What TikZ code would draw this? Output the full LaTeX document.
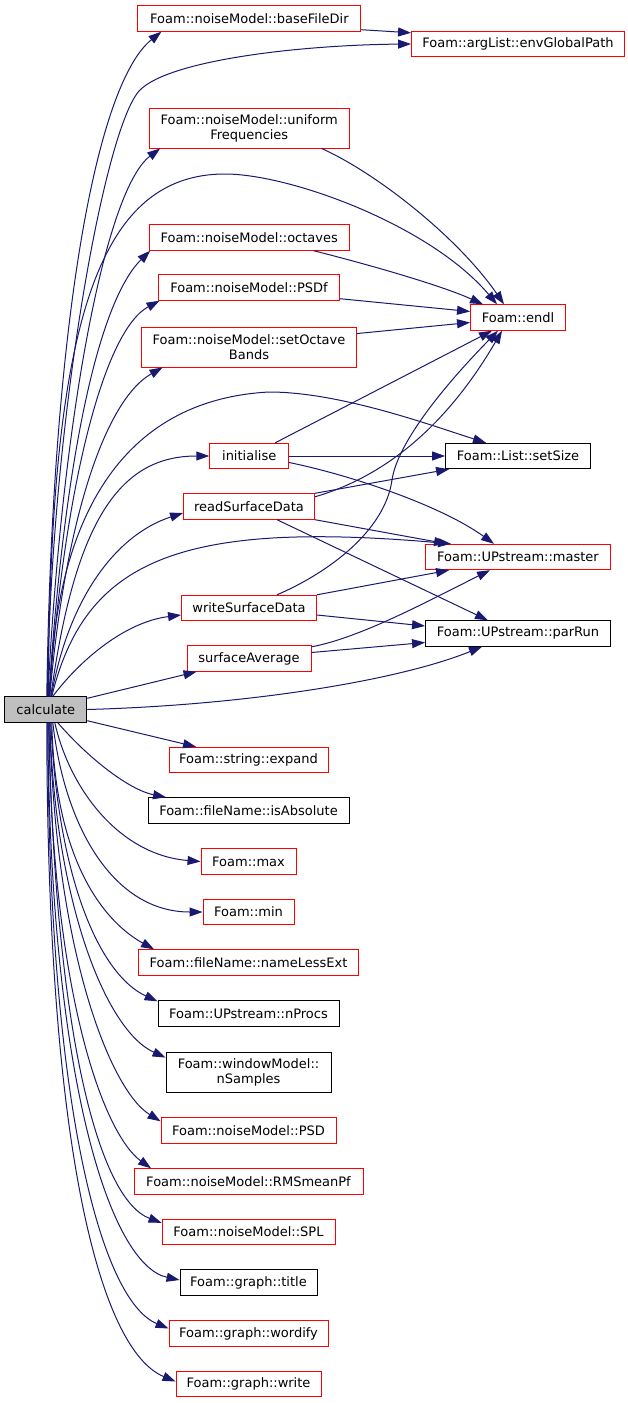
\documentclass[tikz,border=0pt]{standalone}
\usepackage{fontspec}
\setmainfont{DejaVu Sans}
\usetikzlibrary{arrows.meta,calc}
\definecolor{edgecol}{HTML}{191970}
\definecolor{calcgray}{HTML}{BFBFBF}
\definecolor{boxred}{HTML}{FF0000}
\tikzset{
  nb/.style={draw=black, fill=white, line width=0.9pt, inner sep=0pt,
    minimum height=25.5pt, font=\fontsize{13}{15}\selectfont, align=center},
  nr/.style={nb, draw=boxred},
  e/.style={draw=edgecol, line width=1pt, -{Triangle[length=13pt,width=9pt]}},
}
\begin{document}
\begin{tikzpicture}[x=1pt,y=-1pt]
\useasboundingbox (0,0) rectangle (628,1403);
% nodes
\node[nr, minimum width=223pt] (bfd) at (249.4,18.5) {Foam::noiseModel::baseFileDir};
\node[nr, minimum width=213pt] (egp) at (518,44) {Foam::argList::envGlobalPath};
\node[nr, minimum width=200pt, minimum height=40pt] (uf) at (249.2,128) {Foam::noiseModel::uniform\\Frequencies};
\node[nr, minimum width=200pt] (oct) at (249.2,237.5) {Foam::noiseModel::octaves};
\node[nr, minimum width=181pt] (psdf) at (249,287.5) {Foam::noiseModel::PSDf};
\node[nr, minimum width=215pt, minimum height=40pt] (sob) at (249,347) {Foam::noiseModel::setOctave\\Bands};
\node[nr, minimum width=95pt] (endl) at (518,317.5) {Foam::endl};
\node[nb, minimum width=145pt] (setsize) at (518,456) {Foam::List::setSize};
\node[nr, minimum width=79pt] (init) at (249.2,456) {initialise};
\node[nr, minimum width=131pt] (rsd) at (249,506.5) {readSurfaceData};
\node[nr, minimum width=185pt] (master) at (518,557) {Foam::UPstream::master};
\node[nr, minimum width=135pt] (wsd) at (249,608) {writeSurfaceData};
\node[nb, minimum width=185pt] (parrun) at (518,633.5) {Foam::UPstream::parRun};
\node[nr, minimum width=124pt] (savg) at (249,658.5) {surfaceAverage};
\node[nb, fill=calcgray, minimum width=82pt] (calc) at (45.8,709.5) {calculate};
\node[nr, minimum width=159pt] (expand) at (248.5,760) {Foam::string::expand};
\node[nb, minimum width=201pt] (isabs) at (248.5,810.5) {Foam::fileName::isAbsolute};
\node[nr, minimum width=95pt] (max) at (248.5,861.5) {Foam::max};
\node[nr, minimum width=91pt] (min) at (248.5,912) {Foam::min};
\node[nr, minimum width=220pt] (nle) at (248.5,962.5) {Foam::fileName::nameLessExt};
\node[nb, minimum width=181pt] (nprocs) at (248.5,1013.5) {Foam::UPstream::nProcs};
\node[nb, minimum width=165pt, minimum height=40pt] (nsamp) at (248.5,1072) {Foam::windowModel::\\nSamples};
\node[nr, minimum width=175pt] (psd) at (248.5,1130.5) {Foam::noiseModel::PSD};
\node[nr, minimum width=229pt] (rms) at (248.5,1181.5) {Foam::noiseModel::RMSmeanPf};
\node[nr, minimum width=173pt] (spl) at (248.5,1232) {Foam::noiseModel::SPL};
\node[nb, minimum width=137pt] (title) at (248.5,1282.5) {Foam::graph::title};
\node[nr, minimum width=159pt] (wordify) at (248.5,1333.5) {Foam::graph::wordify};
\node[nr, minimum width=145pt] (write) at (248.5,1384) {Foam::graph::write};
% calculate, upper fan
\draw[e] ($(calc.north)+(1,0)$) .. controls (52,330) and (95,85) .. ($(bfd.south)+(-88,0)$);
\draw[e] ($(calc.north)+(1.5,0)$) .. controls (51,420) and (105,125) .. (140,90) .. controls (170,60) and (300,45) .. (egp.west);
\draw[e] ($(calc.north)+(2,0)$) .. controls (62,420) and (105,190) .. ($(uf.south)+(-89,0)$);
\draw[e] ($(calc.north)+(2.5,0)$) .. controls (50,330) and (95,174) .. (225,174) .. controls (290,174) and (430,225) .. ($(endl.north)+(-21,0)$);
\draw[e] ($(calc.north)+(3,0)$) .. controls (65,450) and (100,300) .. ($(oct.south)+(-99,0)$);
\draw[e] ($(calc.north)+(3.5,0)$) .. controls (65,480) and (105,330) .. ($(psdf.south west)+(1.5,0)$);
\draw[e] ($(calc.north)+(4,0)$) .. controls (65,520) and (105,400) .. ($(sob.south west)+(21.5,0)$);
\draw[e] ($(calc.north)+(4,0)$) .. controls (55,520) and (120,400) .. (269,392) .. controls (340,392) and (430,425) .. ($(setsize.north)+(-32,0)$);
\draw[e] ($(calc.north)+(5,0)$) .. controls (75,520) and (120,456) .. (init.west);
\draw[e] ($(calc.north)+(5.5,0)$) .. controls (68,600) and (115,535) .. ($(rsd.west)+(0,6.5)$);
\draw[e] ($(calc.north)+(6,0)$) .. controls (85,560) and (180,520) .. ($(master.north west)+(26,0)$);
\draw[e] ($(calc.north)+(7,0)$) .. controls (80,660) and (125,622) .. ($(wsd.west)+(0,7)$);
\draw[e] ($(calc.north east)+(0,2)$) -- ($(savg.south west)+(10,0)$);
\draw[e] (calc.east) .. controls (250,705) and (400,680) .. ($(parrun.south)+(-36,0)$);
% calculate, lower fan
\draw[e] ($(calc.south east)+(0,-2)$) -- ($(expand.north west)+(27.5,0)$);
\draw[e] ($(calc.south)+(12,0)$) .. controls (90,760) and (130,790) .. ($(isabs.north west)+(18.5,0)$);
\draw[e] ($(calc.south)+(9,0)$) .. controls (70,790) and (120,855) .. (max.west);
\draw[e] ($(calc.south)+(7,0)$) .. controls (65,830) and (115,912) .. (min.west);
\draw[e] ($(calc.south)+(6,0)$) .. controls (55,870) and (110,925) .. ($(nle.north west)+(16,0)$);
\draw[e] ($(calc.south)+(5,0)$) .. controls (58,880) and (100,975) .. ($(nprocs.north west)+(0,1)$);
\draw[e] ($(calc.south)+(4,0)$) .. controls (55,900) and (105,1030) .. ($(nsamp.north west)+(0,6)$);
\draw[e] ($(calc.south)+(4,0)$) .. controls (55,950) and (110,1090) .. ($(psd.north west)+(0,4)$);
\draw[e] ($(calc.south)+(3,0)$) .. controls (52,1000) and (105,1135) .. ($(rms.north west)+(17.5,0)$);
\draw[e] ($(calc.south)+(3,0)$) .. controls (55,1040) and (100,1200) .. ($(spl.north west)+(0,4)$);
\draw[e] ($(calc.south)+(2,0)$) .. controls (50,1080) and (110,1265) .. ($(title.west)+(0,-2.5)$);
\draw[e] ($(calc.south)+(2,0)$) .. controls (48,1100) and (100,1300) .. ($(wordify.west)+(0,-5)$);
\draw[e] ($(calc.south)+(1,0)$) .. controls (47,1150) and (100,1350) .. ($(write.west)+(0,-2.5)$);
% middle to right column
\draw[e] ($(bfd.south east)+(0,-2)$) -- ($(egp.north west)+(0,2)$);
\draw[e] ($(uf.south east)+(-28,0)$) .. controls (380,175) and (460,240) .. ($(endl.north)+(-14,0)$);
\draw[e] ($(oct.south east)+(-36,0)$) .. controls (370,265) and (440,285) .. ($(endl.north)+(-35,0)$);
\draw[e] ($(psdf.south east)+(0,-2)$) -- ($(endl.west)+(0,-6)$);
\draw[e] ($(sob.north east)+(0,7)$) -- ($(endl.west)+(0,5)$);
\draw[e] ($(init.north)+(26,0)$) -- ($(endl.south)+(-26,0)$);
\draw[e] (init.east) -- (setsize.west);
\draw[e] ($(init.east)+(0,6.5)$) .. controls (350,475) and (440,505) .. ($(master.north)+(-24,0)$);
\draw[e] ($(rsd.north east)+(0,3.5)$) .. controls (390,475) and (450,420) .. ($(endl.south)+(-16,0)$);
\draw[e] (rsd.north east) -- ($(setsize.south west)+(4,0)$);
\draw[e] (rsd.south east) -- ($(master.north west)+(22,0)$);
\draw[e] ($(rsd.south)+(28,0)$) -- ($(parrun.north)+(-30,0)$);
\draw[e] ($(wsd.north)+(28,0)$) .. controls (330,572) and (385,530) .. (392,480) .. controls (397,445) and (440,390) .. ($(endl.south)+(-20,0)$);
\draw[e] (wsd.north east) -- ($(master.south west)+(24,0)$);
\draw[e] ($(wsd.east)+(0,7)$) -- ($(parrun.west)+(0,-7.5)$);
\draw[e] ($(savg.north east)+(0,1.5)$) .. controls (360,638) and (430,600) .. ($(master.south)+(-28,0)$);
\draw[e] ($(savg.east)+(0,-6)$) -- ($(parrun.west)+(0,9)$);
\end{tikzpicture}
\end{document}
